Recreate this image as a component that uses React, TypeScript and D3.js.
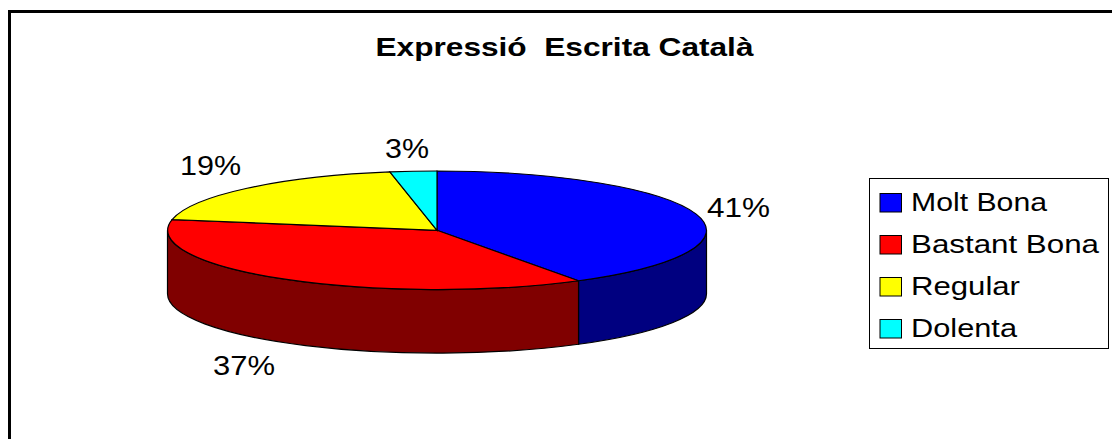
import React from "react";
import * as d3 from "d3";

const categories = ["Molt Bona", "Bastant Bona", "Regular", "Dolenta"];
const values = [41.2, 36.7, 19.3, 2.8];
const topColors = ["#0000ff", "#ff0000", "#ffff00", "#00ffff"];
const sideColors = ["#000080", "#800000", "#808000", "#008080"];
const title = "Expressió  Escrita Català";
const legendWidths = [136, 188, 109, 106];
const labelBoxes = [
  { x: 707, y: 216.5, w: 63 },
  { x: 213, y: 375, w: 62 },
  { x: 180, y: 174.5, w: 61 },
  { x: 385, y: 158, w: 44 },
];

const cx = 437, cy = 230.3, rx = 269.5, ry = 59.3, depth = 63.5;
const FONT = "'Liberation Sans', Arial, sans-serif";

const px = (a: number) => cx + rx * Math.sin(a);
const py = (a: number, dy = 0) => cy - ry * Math.cos(a) + dy;

export default function App() {
  const arcs = d3.pie<number>().sort(null)(values);
  const arcGen = d3.arc<d3.PieArcDatum<number>>().innerRadius(0).outerRadius(1);
  const lo = Math.PI / 2, hi = (3 * Math.PI) / 2;

  return (
    <svg width={1112} height={439} style={{ position: "absolute", left: 0, top: 0, background: "#fff" }}>
      <path d="M9.5 439 V11.5 H1112" fill="none" stroke="#000" strokeWidth={3} />
      <text x={375.5} y={56} fontFamily={FONT} fontSize={26.5} fontWeight="bold" textLength={378} lengthAdjust="spacingAndGlyphs" xmlSpace="preserve">{title}</text>

      {arcs.map((d, i) => {
        const a0 = Math.max(d.startAngle, lo), a1 = Math.min(d.endAngle, hi);
        if (a1 <= a0) return null;
        const large = a1 - a0 > Math.PI ? 1 : 0;
        const p = `M${px(a0)} ${py(a0)} A${rx} ${ry} 0 ${large} 1 ${px(a1)} ${py(a1)} L${px(a1)} ${py(a1, depth)} A${rx} ${ry} 0 ${large} 0 ${px(a0)} ${py(a0, depth)} Z`;
        return <path key={i} d={p} fill={sideColors[i]} stroke="#000" strokeWidth={1.2} />;
      })}
      {arcs.map((d, i) => (
        <path
          key={i}
          d={arcGen(d) as string}
          transform={`translate(${cx} ${cy}) scale(${rx} ${ry})`}
          fill={topColors[i]}
          stroke="#000"
          strokeWidth={1.2}
          vectorEffect="non-scaling-stroke"
        />
      ))}

      {values.map((v, i) => (
        <text key={i} x={labelBoxes[i].x} y={labelBoxes[i].y} fontFamily={FONT} fontSize={27} fill="#000" textLength={labelBoxes[i].w} lengthAdjust="spacingAndGlyphs">{`${Math.round(v)}%`}</text>
      ))}

      <rect x={869.5} y={178.5} width={239} height={170} fill="#fff" stroke="#000" strokeWidth={1} />
      {categories.map((c, i) => (
        <g key={c}>
          <rect x={880} y={193.5 + i * 42} width={21.5} height={18.5} fill={topColors[i]} stroke="#000" strokeWidth={1} />
          <text x={911} y={211 + i * 42} fontFamily={FONT} fontSize={26.5} fill="#000" textLength={legendWidths[i]} lengthAdjust="spacingAndGlyphs">{c}</text>
        </g>
      ))}
    </svg>
  );
}
